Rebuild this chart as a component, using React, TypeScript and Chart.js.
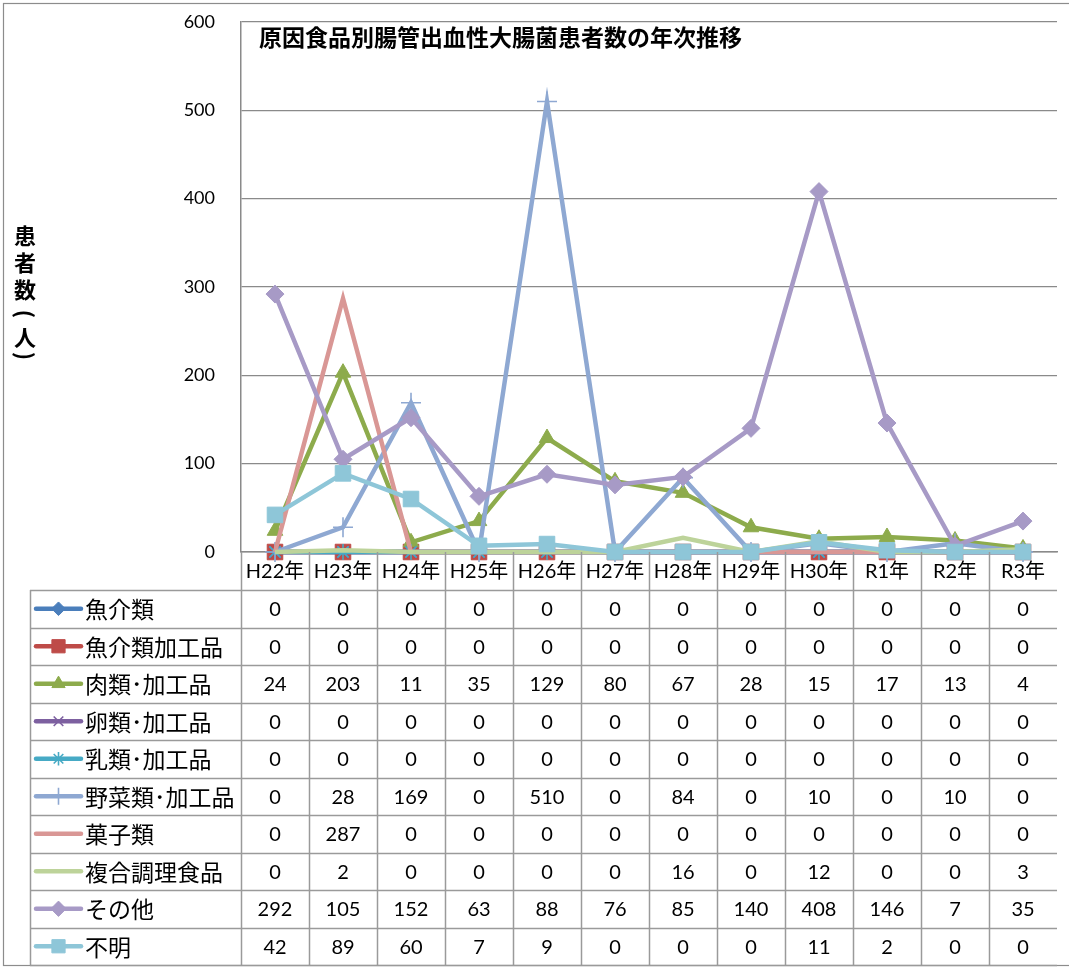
import React, { useEffect, useRef } from "react";
import { Chart, registerables } from "chart.js";
import { drawPoint } from "chart.js/helpers";

Chart.register(...registerables);

const categories = ["H22年", "H23年", "H24年", "H25年", "H26年", "H27年", "H28年", "H29年", "H30年", "R1年", "R2年", "R3年"];
const seriesNames = ["魚介類", "魚介類加工品", "肉類･加工品", "卵類･加工品", "乳類･加工品", "野菜類･加工品", "菓子類", "複合調理食品", "その他", "不明"];

const fish = [0, 0, 0, 0, 0, 0, 0, 0, 0, 0, 0, 0];
const fishProducts = [0, 0, 0, 0, 0, 0, 0, 0, 0, 0, 0, 0];
const meat = [24, 203, 11, 35, 129, 80, 67, 28, 15, 17, 13, 4];
const eggs = [0, 0, 0, 0, 0, 0, 0, 0, 0, 0, 0, 0];
const dairy = [0, 0, 0, 0, 0, 0, 0, 0, 0, 0, 0, 0];
const vegetables = [0, 28, 169, 0, 510, 0, 84, 0, 10, 0, 10, 0];
const sweets = [0, 287, 0, 0, 0, 0, 0, 0, 0, 0, 0, 0];
const compound = [0, 2, 0, 0, 0, 0, 16, 0, 12, 0, 0, 3];
const others = [292, 105, 152, 63, 88, 76, 85, 140, 408, 146, 7, 35];
const unknown = [42, 89, 60, 7, 9, 0, 0, 0, 11, 2, 0, 0];

const yTicks = [0, 100, 200, 300, 400, 500, 600];
const titleText = "原因食品別腸管出血性大腸菌患者数の年次推移";
const yAxisChars = ["患", "者", "数", "(", "人", ")"];

const seriesValues = [fish, fishProducts, meat, eggs, dairy, vegetables, sweets, compound, others, unknown];
const seriesColors = ["#4A7EBB", "#BE4B48", "#8DAB4C", "#7D60A0", "#46AAC5", "#8EA8D2", "#D99795", "#BDD39A", "#A79AC6", "#8EC6D8"];
const seriesMarkers: any[] = ["rectRot", "rect", "triangle", "crossRot", "star", "cross", false, false, "rectRot", "rect"];
const markerRadius = [8, 11, 9, 8, 8, 10, 0, 0, 9, 11];
const markerBorder = [1, 1, 1, 1.6, 1.6, 1.6, 0, 0, 1, 1];

const CJK = "'Noto Sans CJK JP', sans-serif";
const NUM = "Lato, 'Noto Sans CJK JP', sans-serif";

const TABLE_TOP = 590;
const TABLE_BOTTOM = 965;
const TABLE_LEFT = 30;

const tablePlugin = {
  id: "excelTable",
  afterDraw(chart: any) {
    const ctx = chart.ctx as CanvasRenderingContext2D;
    const area = chart.chartArea;
    const xs = chart.scales.x;
    const n = categories.length;
    const rowH = (TABLE_BOTTOM - TABLE_TOP) / seriesNames.length;

    ctx.save();
    // outer chart border
    ctx.strokeStyle = "#8c8c8c";
    ctx.lineWidth = 1.2;
    ctx.strokeRect(3.5, 3.5, 1200, TABLE_BOTTOM - 3);

    // title
    ctx.fillStyle = "#000";
    ctx.font = `bold 23px ${CJK}`;
    ctx.textAlign = "left";
    ctx.textBaseline = "middle";
    ctx.fillText(titleText, 259, 37);

    // y axis title (vertical, parentheses rotated)
    ctx.font = `bold 22px ${CJK}`;
    ctx.textAlign = "center";
    const ys = [236, 263, 290, 314, 338, 356];
    yAxisChars.forEach((c, i) => {
      if (c === "(" || c === ")") {
        ctx.save();
        ctx.translate(25, ys[i]);
        ctx.rotate(Math.PI / 2);
        ctx.fillText(c, 0, 0);
        ctx.restore();
      } else {
        ctx.fillText(c, 25, ys[i]);
      }
    });

    // table grid
    ctx.strokeStyle = "#9a9a9a";
    ctx.lineWidth = 1.5;
    const bounds: number[] = [];
    for (let j = 0; j <= n; j++) {
      let x: number;
      if (j === 0) x = area.left;
      else if (j === n) x = area.right;
      else x = (xs.getPixelForValue(j - 1) + xs.getPixelForValue(j)) / 2;
      bounds.push(x);
    }
    ctx.beginPath();
    bounds.forEach((x, j) => {
      if (j === n) return;
      ctx.moveTo(Math.round(x) + 0.5, area.bottom);
      ctx.lineTo(Math.round(x) + 0.5, TABLE_BOTTOM);
    });
    ctx.moveTo(TABLE_LEFT + 0.5, TABLE_TOP);
    ctx.lineTo(TABLE_LEFT + 0.5, TABLE_BOTTOM);
    for (let r = 0; r <= seriesNames.length; r++) {
      const y = Math.round(TABLE_TOP + r * rowH) + 0.5;
      ctx.moveTo(TABLE_LEFT, y);
      ctx.lineTo(area.right, y);
    }
    ctx.stroke();

    // rows
    seriesNames.forEach((name, r) => {
      const cy = TABLE_TOP + (r + 0.5) * rowH;
      const color = seriesColors[r];
      // legend key
      ctx.strokeStyle = color;
      ctx.lineWidth = 4.5;
      ctx.lineCap = "round";
      ctx.beginPath();
      ctx.moveTo(36, cy);
      ctx.lineTo(81, cy);
      ctx.stroke();
      ctx.lineCap = "butt";
      if (seriesMarkers[r]) {
        ctx.fillStyle = color;
        ctx.strokeStyle = color;
        ctx.lineWidth = markerBorder[r];
        drawPoint(ctx, { pointStyle: seriesMarkers[r], radius: markerRadius[r] * 0.85, rotation: 0, borderWidth: markerBorder[r] } as any, 58.5, cy);
      }
      // label
      ctx.fillStyle = "#000";
      ctx.font = `23px ${CJK}`;
      ctx.textAlign = "left";
      ctx.textBaseline = "middle";
      ctx.fillText(name, 85, cy + 1);
      // values
      ctx.font = `20px ${NUM}`;
      ctx.textAlign = "center";
      seriesValues[r].forEach((v, i) => {
        ctx.fillText(String(v), xs.getPixelForValue(i), cy + 1);
      });
    });
    ctx.restore();
  },
};

export default function App() {
  const canvasRef = useRef<HTMLCanvasElement | null>(null);

  useEffect(() => {
    if (!canvasRef.current) return;
    const datasets = seriesNames.map((name, i) => ({
      label: name,
      data: seriesValues[i],
      borderColor: seriesColors[i],
      backgroundColor: seriesColors[i],
      borderWidth: 4.5,
      pointStyle: seriesMarkers[i],
      pointRadius: markerRadius[i],
      pointBackgroundColor: seriesColors[i],
      pointBorderColor: seriesColors[i],
      pointBorderWidth: markerBorder[i],
      tension: 0,
      fill: false,
      clip: false as any,
      order: seriesNames.length - i,
    }));

    const chart = new Chart(canvasRef.current, {
      type: "line",
      data: { labels: categories, datasets },
      options: {
        animation: false,
        responsive: true,
        maintainAspectRatio: false,
        devicePixelRatio: 1,
        layout: { padding: { left: 0, top: 22, right: 0, bottom: 967 - TABLE_TOP } },
        plugins: { legend: { display: false }, tooltip: { enabled: false }, title: { display: false } },
        scales: {
          x: {
            type: "category",
            offset: true,
            grid: { display: false, drawTicks: false },
            border: { display: true, color: "#8a8a8a", width: 1.5 },
            ticks: { color: "#000", font: { family: NUM, size: 20 }, padding: 8, maxRotation: 0, autoSkip: false },
            afterFit: (s: any) => { s.height = TABLE_TOP - 552; s.paddingLeft = 0; s.paddingRight = 0; },
          },
          y: {
            min: 0,
            max: 600,
            afterBuildTicks: (s: any) => { s.ticks = yTicks.map((v) => ({ value: v })); },
            grid: { color: "#8a8a8a", lineWidth: 1.3, drawTicks: false },
            border: { display: true, color: "#8a8a8a", width: 1.5 },
            ticks: { color: "#000", font: { family: NUM, size: 18 }, padding: 26 },
            afterFit: (s: any) => { s.width = 241; s.paddingTop = 0; s.paddingBottom = 0; },
          },
        },
      },
      plugins: [tablePlugin],
    });
    return () => chart.destroy();
  }, []);

  return (
    <div style={{ position: "fixed", left: 0, top: 0, width: 1069, height: 967, background: "#fff" }}>
      <canvas ref={canvasRef} />
    </div>
  );
}
